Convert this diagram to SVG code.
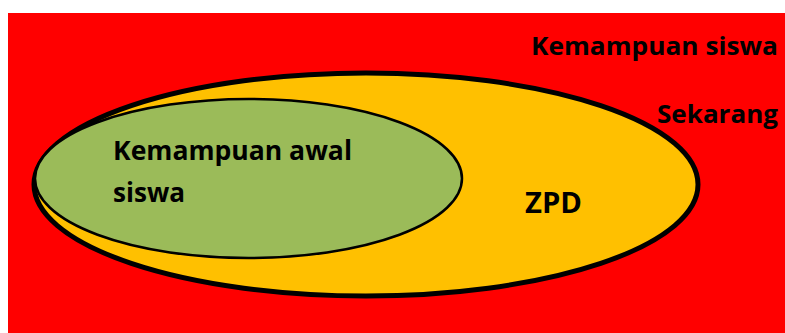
<svg xmlns="http://www.w3.org/2000/svg" width="785" height="333" viewBox="0 0 785 333">
  <style>
    .lbl { font-family: "Open Sans", "Noto Sans", "Liberation Sans", sans-serif; font-weight: 700; fill: #000; }
  </style>
  <rect width="785" height="333" fill="#fff"/>
  <!-- background region -->
  <g id="background">
    <rect x="8" y="13" width="777" height="320" fill="#ff0000"/>
    <text class="lbl" x="531" y="55" font-size="25" textLength="247" lengthAdjust="spacingAndGlyphs">Kemampuan siswa</text>
    <text class="lbl" x="657" y="123" font-size="25" textLength="121" lengthAdjust="spacingAndGlyphs">Sekarang</text>
  </g>
  <!-- current ability zone -->
  <g id="zpd">
    <ellipse cx="366" cy="184.5" rx="332" ry="111.5" fill="#ffc000" stroke="#000" stroke-width="5"/>
    <text class="lbl" x="525" y="213" font-size="29" textLength="57" lengthAdjust="spacingAndGlyphs">ZPD</text>
  </g>
  <!-- initial ability -->
  <g id="awal">
    <ellipse cx="248.5" cy="178.5" rx="213.5" ry="79.5" fill="#9bbb59" stroke="#000" stroke-width="2.5"/>
    <text class="lbl" x="113" y="160" font-size="26" textLength="239" lengthAdjust="spacingAndGlyphs">Kemampuan awal</text>
    <text class="lbl" x="113" y="202" font-size="26" textLength="72" lengthAdjust="spacingAndGlyphs">siswa</text>
  </g>
</svg>
